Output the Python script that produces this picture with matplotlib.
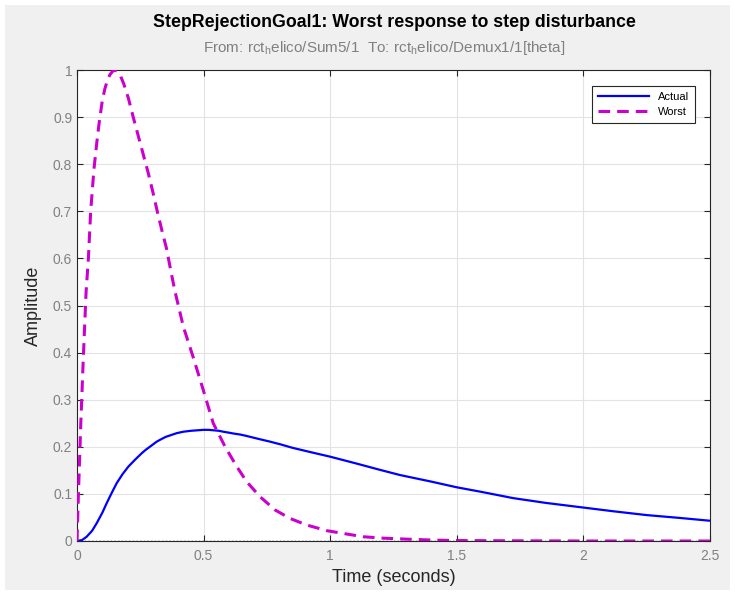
import matplotlib
matplotlib.use("Agg")
import matplotlib.pyplot as plt
from matplotlib.patches import Rectangle

# values
t_actual = [0, 0.02, 0.038, 0.06, 0.078, 0.1, 0.117, 0.137, 0.157, 0.18, 0.203, 0.23,
            0.255, 0.27, 0.285, 0.3, 0.315, 0.332, 0.35, 0.372, 0.394, 0.42, 0.45, 0.475,
            0.499, 0.52, 0.54, 0.56, 0.578, 0.6, 0.62, 0.645, 0.67, 0.715, 0.762, 0.805,
            0.85, 0.92, 1.0, 1.1, 1.197, 1.276, 1.4, 1.5, 1.6, 1.723, 1.85, 2.0, 2.12,
            2.25, 2.38, 2.5]
y_actual = [0, 0.002, 0.009, 0.022, 0.038, 0.06, 0.080, 0.102, 0.123, 0.142, 0.158, 0.173,
            0.186, 0.193, 0.199, 0.205, 0.211, 0.216, 0.221, 0.225, 0.229, 0.232, 0.234, 0.235,
            0.236, 0.236, 0.235, 0.234, 0.232, 0.230, 0.228, 0.226, 0.223, 0.217, 0.211, 0.205,
            0.198, 0.189, 0.179, 0.165, 0.151, 0.140, 0.126, 0.114, 0.104, 0.091, 0.081, 0.071,
            0.063, 0.055, 0.049, 0.043]

t_worst = [0, 0.005, 0.015, 0.025, 0.036, 0.045, 0.054, 0.067, 0.078, 0.088, 0.1, 0.11,
           0.12, 0.13, 0.14, 0.15, 0.16, 0.17, 0.185, 0.203, 0.222, 0.242, 0.262, 0.282,
           0.3, 0.317, 0.335, 0.354, 0.37, 0.387, 0.42, 0.459, 0.499, 0.538, 0.585, 0.631,
           0.67, 0.723, 0.782, 0.841, 0.907, 0.986, 1.052, 1.131, 1.21, 1.3, 1.4, 1.5, 1.7,
           2.0, 2.5]
y_worst = [0, 0.09, 0.25, 0.39, 0.53, 0.60, 0.70, 0.79, 0.845, 0.89, 0.935, 0.96,
           0.978, 0.99, 0.997, 1.0, 0.997, 0.99, 0.97, 0.94, 0.90, 0.86, 0.82, 0.78,
           0.74, 0.70, 0.66, 0.62, 0.575, 0.53, 0.455, 0.39, 0.32, 0.25, 0.20, 0.158,
           0.126, 0.094, 0.066, 0.048, 0.034, 0.022, 0.016, 0.009, 0.006, 0.004, 0.002,
           0.001, 0.0005, 0, 0]

xticks = [0, 0.5, 1, 1.5, 2, 2.5]
xticklabels = ["0", "0.5", "1", "1.5", "2", "2.5"]
yticks = [0, 0.1, 0.2, 0.3, 0.4, 0.5, 0.6, 0.7, 0.8, 0.9, 1]
yticklabels = ["0", "0.1", "0.2", "0.3", "0.4", "0.5", "0.6", "0.7", "0.8", "0.9", "1"]

plt.rcParams['font.family'] = ['Liberation Sans', 'DejaVu Sans']

fig = plt.figure(figsize=(7.35, 5.94), dpi=100, facecolor="white")
# gray panel like the MATLAB figure window
fig.patches.append(Rectangle((5 / 735, 4 / 594), 725 / 735, 585 / 594, transform=fig.transFigure,
                             facecolor="#f0f0f0", edgecolor="none", zorder=-1))

ax = fig.add_axes([77 / 735, 53 / 594, 633 / 735, 471 / 594])
ax.set_facecolor("white")

ax.axhline(0, color="black", linestyle=":", linewidth=1.0, zorder=2)
ax.plot(t_actual, y_actual, color="#0000ff", linewidth=1.6, label="Actual", zorder=3)
ax.plot(t_worst, y_worst, color="#cc00cc", linewidth=2.2, linestyle=(0, (3.8, 2.3)),
        label="Worst", zorder=4)

ax.set_xlim(0, 2.5)
ax.set_ylim(0, 1)
ax.set_xticks(xticks)
ax.set_xticklabels(xticklabels)
ax.set_yticks(yticks)
ax.set_yticklabels(yticklabels)
ax.grid(True, color="#e3e3e3", linewidth=0.8)
ax.set_axisbelow(True)
ax.tick_params(direction="in", top=True, right=True, length=4, width=0.8,
               colors="#262626", labelcolor="#808080", labelsize=10)
ax.tick_params(axis="x", pad=6)
for s in ax.spines.values():
    s.set_color("#262626")
    s.set_linewidth(0.8)

ax.set_xlabel("Time (seconds)", fontsize=13, color="#262626", labelpad=4)
ax.set_ylabel("Amplitude", fontsize=13, color="#262626", labelpad=8)

leg = ax.legend(loc="upper right", bbox_to_anchor=(0.985, 0.978), fontsize=8,
                frameon=True, fancybox=False, edgecolor="#262626", framealpha=1,
                handlelength=4.6, borderpad=0.55, labelspacing=0.45)
leg.get_frame().set_linewidth(0.8)

fig.text(0.536, 0.962, "StepRejectionGoal1: Worst response to step disturbance",
         ha="center", va="center", fontsize=12.8, fontweight="bold", color="black")
fig.text(0.523, 0.919,
         r"From: rct$_\mathregular{h}$elico/Sum5/1  To: rct$_\mathregular{h}$elico/Demux1/1[theta]",
         ha="center", va="center", fontsize=11, color="#808080")

fig.savefig("out.png", dpi=100, facecolor=fig.get_facecolor())
